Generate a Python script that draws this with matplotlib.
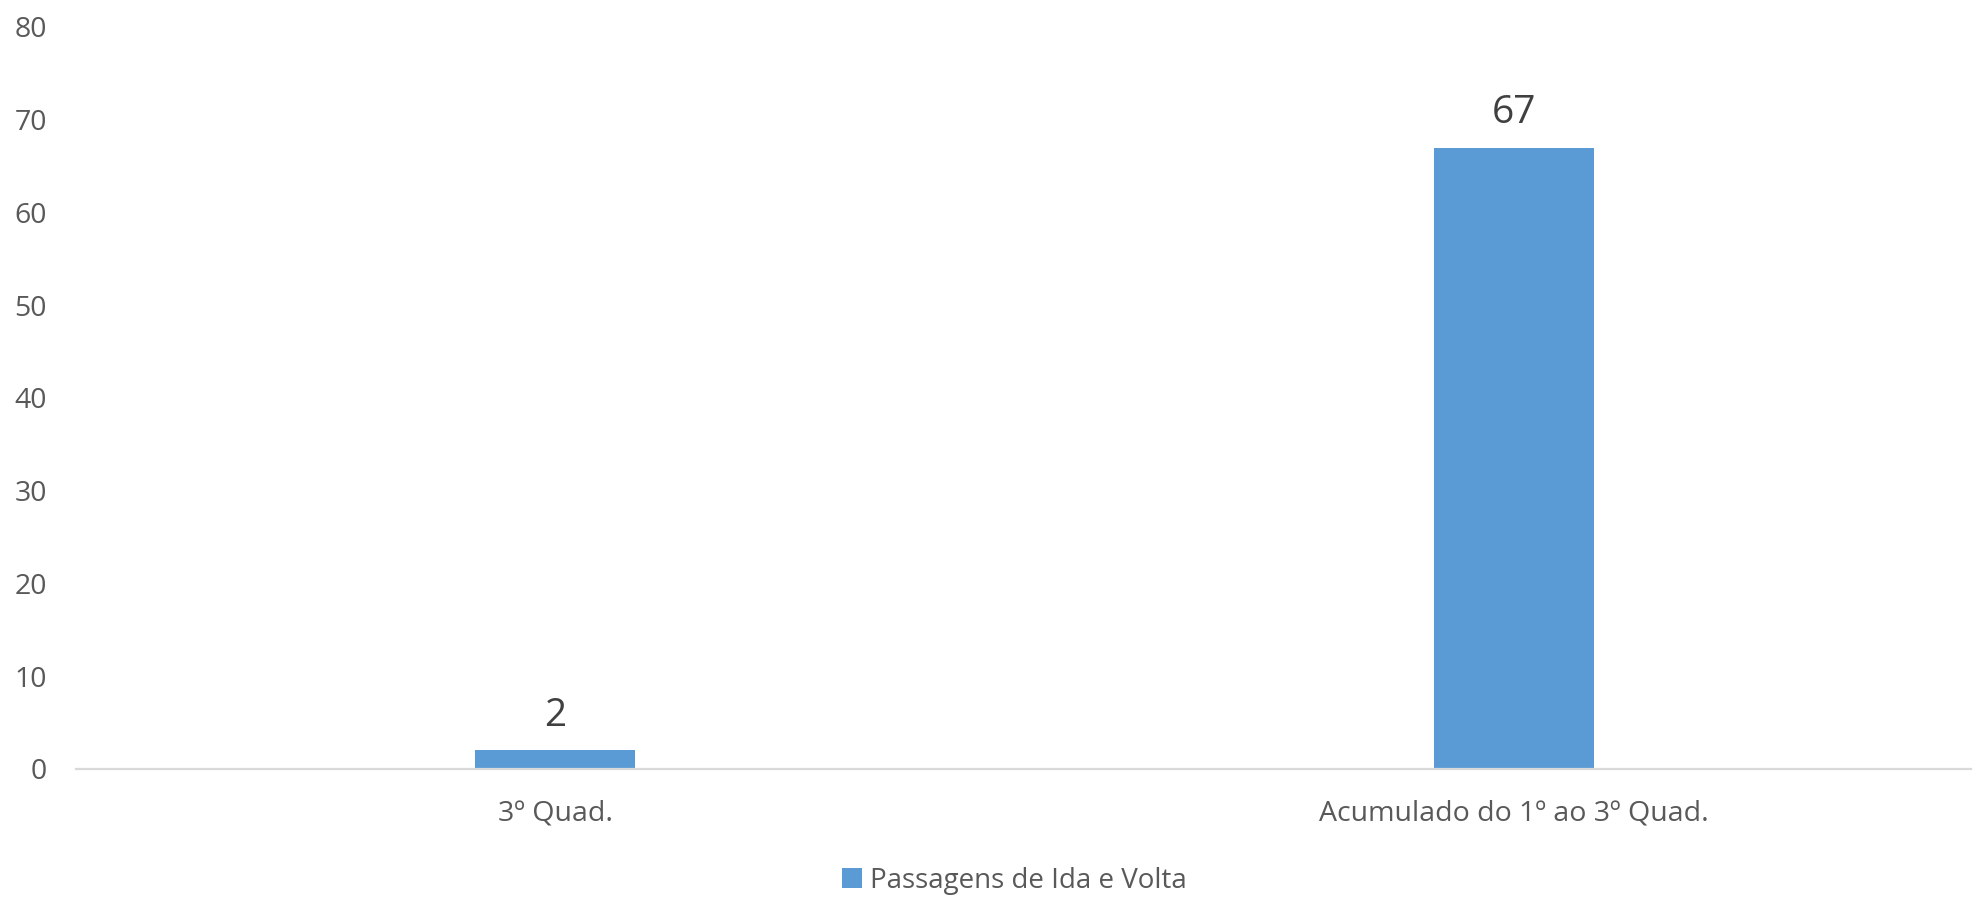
import matplotlib
matplotlib.use("Agg")
import matplotlib.pyplot as plt
from matplotlib.patches import Patch

plt.rcParams['font.family'] = ['Open Sans', 'DejaVu Sans']

categories = ["3º Quad.", "Acumulado do 1º ao 3º Quad."]
values = [2, 67]
series_name = "Passagens de Ida e Volta"
y_ticks = [0, 10, 20, 30, 40, 50, 60, 70, 80]

bar_color = "#5B9BD5"
text_color = "#595959"
label_color = "#404040"
axis_color = "#D9D9D9"

fig = plt.figure(figsize=(19.74, 8.98), dpi=100)
ax = fig.add_axes([0.0385, 0.1437, 0.96, 0.8263])

x = list(range(len(categories)))
bars = ax.bar(x, values, width=0.167, color=bar_color, zorder=2)

for xi, v in zip(x, values):
    ax.annotate(str(v), (xi, v), xytext=(0, 11), textcoords="offset points",
                ha="center", va="bottom", fontsize=28, color=label_color)

ax.set_xlim(-0.4995, 1.4766)
ax.set_ylim(0, 80)
ax.set_yticks(y_ticks)
ax.set_xticks(x)
ax.set_xticklabels(categories)

for side in ("top", "right", "left"):
    ax.spines[side].set_visible(False)
ax.spines["bottom"].set_color(axis_color)
ax.spines["bottom"].set_linewidth(1.6)
ax.spines["bottom"].set_zorder(3)

ax.tick_params(axis="both", length=0, labelsize=20.5, colors=text_color)
ax.tick_params(axis="y", pad=21)
ax.tick_params(axis="x", pad=22)

handle = Patch(facecolor=bar_color, edgecolor="none", label=series_name)
fig.legend(handles=[handle], loc="center", bbox_to_anchor=(0.514, 0.019),
           frameon=False, fontsize=20, labelcolor=text_color,
           handlelength=0.7, handleheight=0.7, handletextpad=0.3)

fig.savefig("out.png", dpi=100)
